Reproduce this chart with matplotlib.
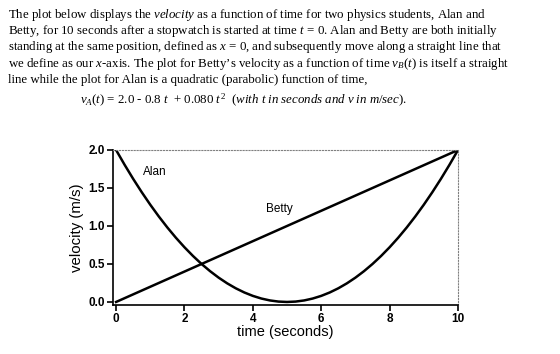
import numpy as np
import matplotlib.pyplot as plt

plt.rcParams['mathtext.fontset'] = 'custom'
plt.rcParams['mathtext.rm'] = 'Liberation Serif'
plt.rcParams['mathtext.it'] = 'Liberation Serif:italic'

# Alan: parabola, Betty: straight line
t_alan = [0, 0.25, 0.5, 0.75, 1, 1.25, 1.5, 1.75, 2, 2.25, 2.5, 2.75, 3, 3.25, 3.5, 3.75, 4,
          4.25, 4.5, 4.75, 5, 5.25, 5.5, 5.75, 6, 6.25, 6.5, 6.75, 7, 7.25, 7.5, 7.75, 8,
          8.25, 8.5, 8.75, 9, 9.25, 9.5, 9.75, 10]
v_alan = [2.0, 1.805, 1.62, 1.445, 1.28, 1.125, 0.98, 0.845, 0.72, 0.605, 0.5, 0.405, 0.32,
          0.245, 0.18, 0.125, 0.08, 0.045, 0.02, 0.005, 0.0, 0.005, 0.02, 0.045, 0.08, 0.125,
          0.18, 0.245, 0.32, 0.405, 0.5, 0.605, 0.72, 0.845, 0.98, 1.125, 1.28, 1.445, 1.62,
          1.805, 2.0]
t_betty = [0, 10]
v_betty = [0.0, 2.0]

xticks = [0, 2, 4, 6, 8, 10]
yticks = [0.0, 0.5, 1.0, 1.5, 2.0]

para = [
    r"The plot below displays the $velocity$ as a function of time for two physics students, Alan and",
    r"Betty, for 10 seconds after a stopwatch is started at time $t$ = 0. Alan and Betty are both initially",
    r"standing at the same position, defined as $x$ = 0, and subsequently move along a straight line that",
    r"we define as our $x$-axis. The plot for Betty’s velocity as a function of time $v_B(t)$ is itself a straight",
    r"line while the plot for Alan is a quadratic (parabolic) function of time,",
]
eq = r"$v_A(t)$ = 2.0 - $0.8\ t$  + $0.080\ t^2$  ($with\ t\ in\ seconds\ and\ v\ in\ m/sec$)."

fig = plt.figure(figsize=(5.6, 3.54), dpi=100)
H = 354.0
for i, s in enumerate(para):
    fig.text(8 / 560, 1 - (18 + 16.2 * i) / H, s, fontsize=9.25,
             family='Liberation Serif', va='baseline', ha='left')
fig.text(80 / 560, 1 - 104 / H, eq, fontsize=9.25, family='Liberation Serif',
         va='baseline', ha='left')

ax = fig.add_axes([113 / 560, 1 - 305 / H, 345 / 560, 155 / H])
ax.plot(t_alan, v_alan, color='black', lw=1.8, solid_joinstyle='round')
ax.plot(t_betty, v_betty, color='black', lw=1.8)
ax.set_xlim(-0.09, 10)
ax.set_ylim(-0.04, 2.0)
ax.set_xticks(xticks)
ax.set_yticks(yticks)
ax.set_yticklabels(['0.0', '0.5', '1.0', '1.5', '2.0'])
ax.tick_params(direction='out', length=4, width=1.2, labelsize=8.5, pad=2)
for lab in ax.get_xticklabels() + ax.get_yticklabels():
    lab.set_fontweight('bold')
    lab.set_family('Liberation Sans')
for side in ['left', 'bottom']:
    ax.spines[side].set_linewidth(1.2)
for side in ['top', 'right']:
    ax.spines[side].set_linestyle(':')
    ax.spines[side].set_color('gray')
    ax.spines[side].set_linewidth(0.8)

ax.text(1.14, 1.71, 'Alan', fontsize=8.5, family='Liberation Sans', ha='center', va='center')
ax.text(4.78, 1.22, 'Betty', fontsize=8.5, family='Liberation Sans', ha='center', va='center')
ax.set_xlabel('time (seconds)', fontsize=10.5, family='Liberation Sans', labelpad=0)
ax.set_ylabel('velocity (m/s)', fontsize=10.8, family='Liberation Sans', labelpad=3)

fig.savefig('out.png', dpi=100)
